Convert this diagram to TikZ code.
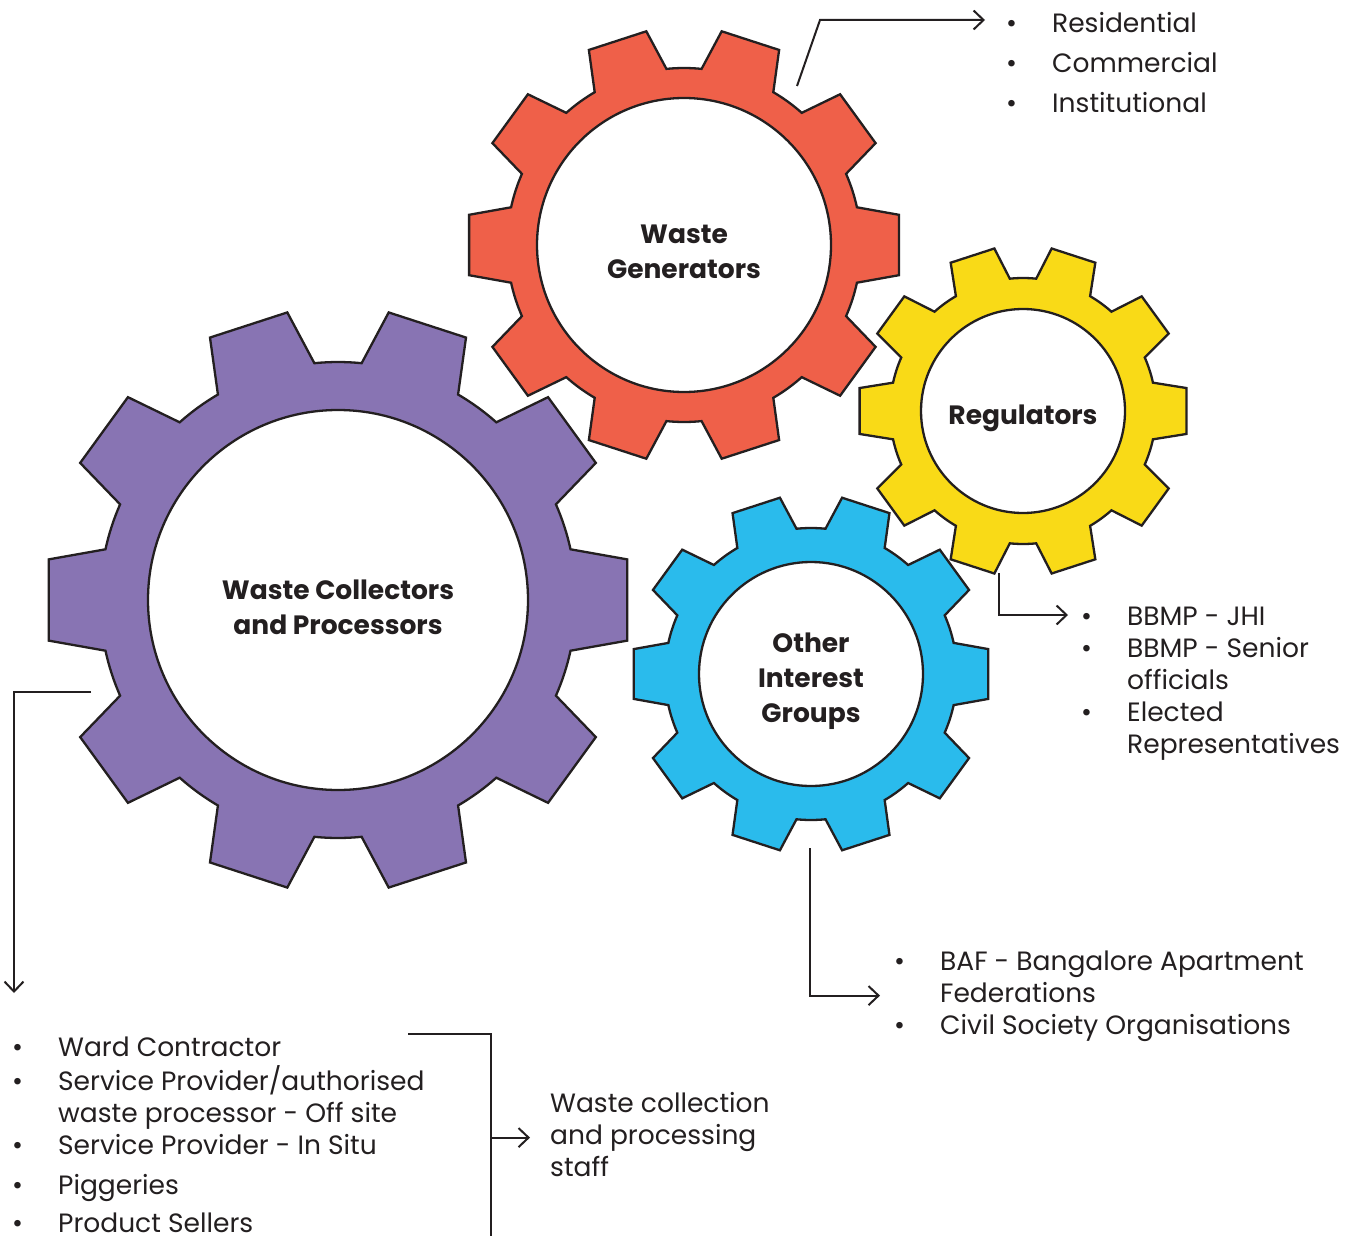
\documentclass[tikz,border=0pt]{standalone}
\usepackage{fontspec}
\setmainfont{Poppins}
\usetikzlibrary{arrows.meta}
\definecolor{outline color}{HTML}{231F20}
\definecolor{gen color}{HTML}{EF6049}
\definecolor{col color}{HTML}{8874B3}
\definecolor{reg color}{HTML}{F9DA17}
\definecolor{oig color}{HTML}{2ABBEC}
\newcommand{\bul}{\makebox[46pt][l]{\textbullet}}
\tikzset{
    x={1pt},
    y={-1pt},
    gear outline/.style={
        draw=outline color,
        line width={2.3pt},
    },
    pics/gear/.style args={#1/#2/#3}{
        code={
            \path[gear outline, fill={#3}] (-12.3:#1)
                \foreach \a in {0,36,...,324} {
                    -- (\a-12.3:#1) -- (\a-8:#2) -- (\a+8:#2) -- (\a+12.3:#1)
                    arc[start angle={\a+12.3}, end angle={\a+23.7}, radius={#1}]
                } -- cycle;
        },
    },
    gear hub/.style={
        circle, fill=white,
        draw=outline color,
        line width={2.3pt},
        inner sep=0pt,
        label={
            [align=center,
                text=outline color,
                font={\bfseries\fontsize{26.5}{35}\selectfont},
                yshift=-7pt]
            center:#1
        },
    },
    item list/.style={
        anchor=base west,
        inner sep=0pt,
        text=outline color,
        font={\fontsize{26.5}{32}\selectfont},
    },
    link/.style={
        draw=outline color,
        line width={2pt},
        -{Straight Barb[length=10pt, width=19pt]},
    },
    bracket/.style={
        draw=outline color,
        line width={2pt},
    },
}

\begin{document}
\begin{tikzpicture}
\useasboundingbox (0,0) rectangle (1354,1236);
\fill[white] (0,0) rectangle (1354,1236);
% gears
\pic at (684,245) {gear=177/217/gen color};
\pic at (1023,411) {gear=133/165/reg color};
\pic at (811,674) {gear=146/179/oig color};
\pic at (338,600) {gear=238/292/col color};
\node[gear hub={Waste\\Generators}, minimum size=294] (gen) at (684,245) {};
\node[gear hub={Regulators}, minimum size=204] (reg) at (1023,411) {};
\node[gear hub={Other\\Interest\\Groups}, minimum size=224] (oig) at (811,674) {};
\node[gear hub={Waste Collectors\\and Processors}, minimum size=380] (col) at (338,600) {};
% lists
\node[item list, font={\fontsize{26.5}{40}\selectfont}] (gen list) at (1006,33) {\begin{tabular}[t]{@{}l@{}l@{}}
\bul & Residential\\
\bul & Commercial\\
\bul & Institutional
\end{tabular}};
\node[item list] (reg list) at (1081,625) {\begin{tabular}[t]{@{}l@{}l@{}}
\bul & BBMP - JHI\\
\bul & BBMP - Senior\\
     & officials\\
\bul & Elected\\
     & Representatives
\end{tabular}};
\node[item list] (oig list) at (894,970) {\begin{tabular}[t]{@{}l@{}l@{}}
\bul & BAF - Bangalore Apartment\\
     & Federations\\
\bul & Civil Society Organisations
\end{tabular}};
\node[item list] (col list) at (12,1056) {\begin{tabular}[t]{@{}l@{}l@{}}
\bul & Ward Contractor\\
\bul & Service Provider/authorised\\
     & waste processor - Off site\\
\bul & Service Provider - In Situ\\[8pt]
\bul & Piggeries\\[6pt]
\bul & Product Sellers
\end{tabular}};
\node[item list] (staff) at (550,1112) {\begin{tabular}[t]{@{}l@{}}
Waste collection\\
and processing\\
staff
\end{tabular}};
% connectors
\coordinate (gen exit) at ([shift={(113,-159)}]gen.center);
\coordinate (reg exit) at ([shift={(-24,162)}]reg.center);
\coordinate (oig exit) at ([shift={(-1,174)}]oig.center);
\coordinate (col exit) at ([shift={(-247,92)}]col.center);
\coordinate (bracket top) at (408,1034);
\coordinate (bracket corner) at (491,1034);
\draw[link] (gen exit) -- ++(23,-66) -- ([shift={(-21,-13)}]gen list.base west);
\draw[link] (reg exit) |- ([shift={(-13,-10)}]reg list.base west);
\draw[link] (oig exit) |- ([xshift=-14pt]oig list.west);
\draw[link] (col exit) -| ([shift={(2,-63)}]col list.base west);
\draw[bracket] (bracket top) -- (bracket corner) -- ++(0,210);
\draw[link] (bracket corner |- staff.west) -- ([xshift=-20pt]staff.west);
\end{tikzpicture}
\end{document}
